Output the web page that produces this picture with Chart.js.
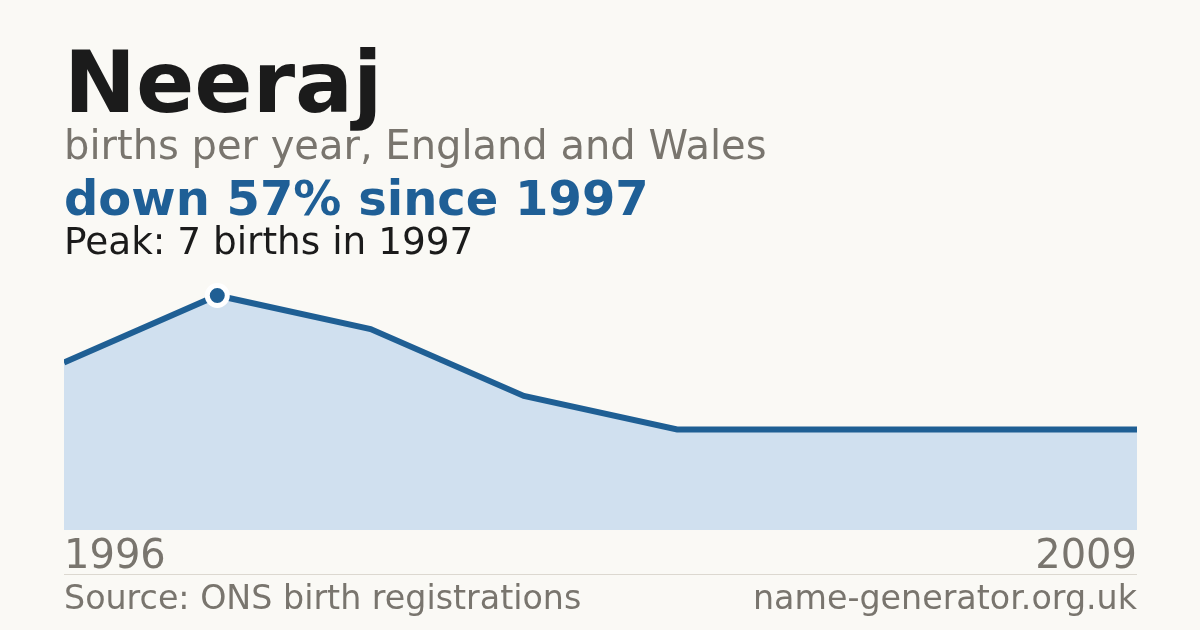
<!DOCTYPE html>
<html>
<head>
<meta charset="utf-8">
<script src="https://cdn.jsdelivr.net/npm/chart.js@4"></script>
<style>
  html, body { margin: 0; padding: 0; background: #faf9f5; }
  body { width: 1200px; height: 630px; position: relative; overflow: hidden; font-family: "DejaVu Sans", sans-serif; }
  #birthsChart { position: absolute; left: 0; top: 0; }
  .txt { position: absolute; left: 64px; line-height: 1; white-space: nowrap; }
  #name { top: 39px; font-size: 86px; font-weight: bold; color: #1b1b1b; }
  #sub { top: 125px; font-size: 40px; color: #79756e; }
  #change { top: 174px; font-size: 48px; font-weight: bold; color: #1f5f96; }
  #peak { top: 223px; font-size: 37.4px; color: #1b1b1b; }
  #rule { position: absolute; left: 64px; top: 574px; width: 1073px; height: 1px; background: #dcd8d0; }
  #source { top: 581px; font-size: 33.3px; color: #79756e; }
  #site { top: 581px; left: auto; right: 63px; font-size: 33.3px; color: #79756e; }
</style>
</head>
<body>
<canvas id="birthsChart" width="1200" height="630"></canvas>
<div class="txt" id="name">Neeraj</div>
<div class="txt" id="sub">births per year, England and Wales</div>
<div class="txt" id="change"></div>
<div class="txt" id="peak"></div>
<div id="rule"></div>
<div class="txt" id="source">Source: ONS birth registrations</div>
<div class="txt" id="site">name-generator.org.uk</div>

<script>
// data (only first and last year are labelled)
const years = ['1996', '1997', '1998', '1999', '2000', '2002', '2005', '2009'];
const births = [5, 7, 6, 4, 3, 3, 3, 3];

const peakIndex = births.indexOf(Math.max(...births));
const peakYear = years[peakIndex];
const lastValue = births[births.length - 1];
const drop = Math.round((1 - lastValue / births[peakIndex]) * 100);

document.getElementById('change').textContent = 'down ' + drop + '% since ' + peakYear;
document.getElementById('peak').textContent = 'Peak: ' + births[peakIndex] + ' births in ' + peakYear;

const ctx = document.getElementById('birthsChart').getContext('2d');
const birthsChart = new Chart(ctx, {
  type: 'line',
  data: {
    labels: years,
    datasets: [{
      data: births,
      borderColor: '#1f5f94',
      borderWidth: 6,
      backgroundColor: '#d0e0ef',
      fill: 'origin',
      tension: 0,
      clip: 0,
      pointRadius: c => c.dataIndex === peakIndex ? 10 : 0,
      pointBorderWidth: 5,
      pointBackgroundColor: '#1f5f94',
      pointBorderColor: '#ffffff'
    }]
  },
  options: {
    responsive: false,
    maintainAspectRatio: false,
    animation: false,
    events: [],
    devicePixelRatio: 1,
    layout: {
      autoPadding: false,
      padding: { left: 64, right: 63, top: 262, bottom: 44 }
    },
    plugins: {
      legend: { display: false },
      tooltip: { enabled: false }
    },
    scales: {
      y: {
        display: false,
        min: 0,
        max: 8
      },
      x: {
        offset: false,
        grid: { display: false, drawTicks: false },
        border: { display: false },
        ticks: {
          autoSkip: false,
          maxRotation: 0,
          align: 'inner',
          padding: 8,
          color: '#79756e',
          font: { family: 'DejaVu Sans', size: 40, lineHeight: 1 },
          callback: function (value, index) {
            return (index === 0 || index === years.length - 1) ? years[index] : '';
          }
        }
      }
    }
  }
});
</script>
</body>
</html>
